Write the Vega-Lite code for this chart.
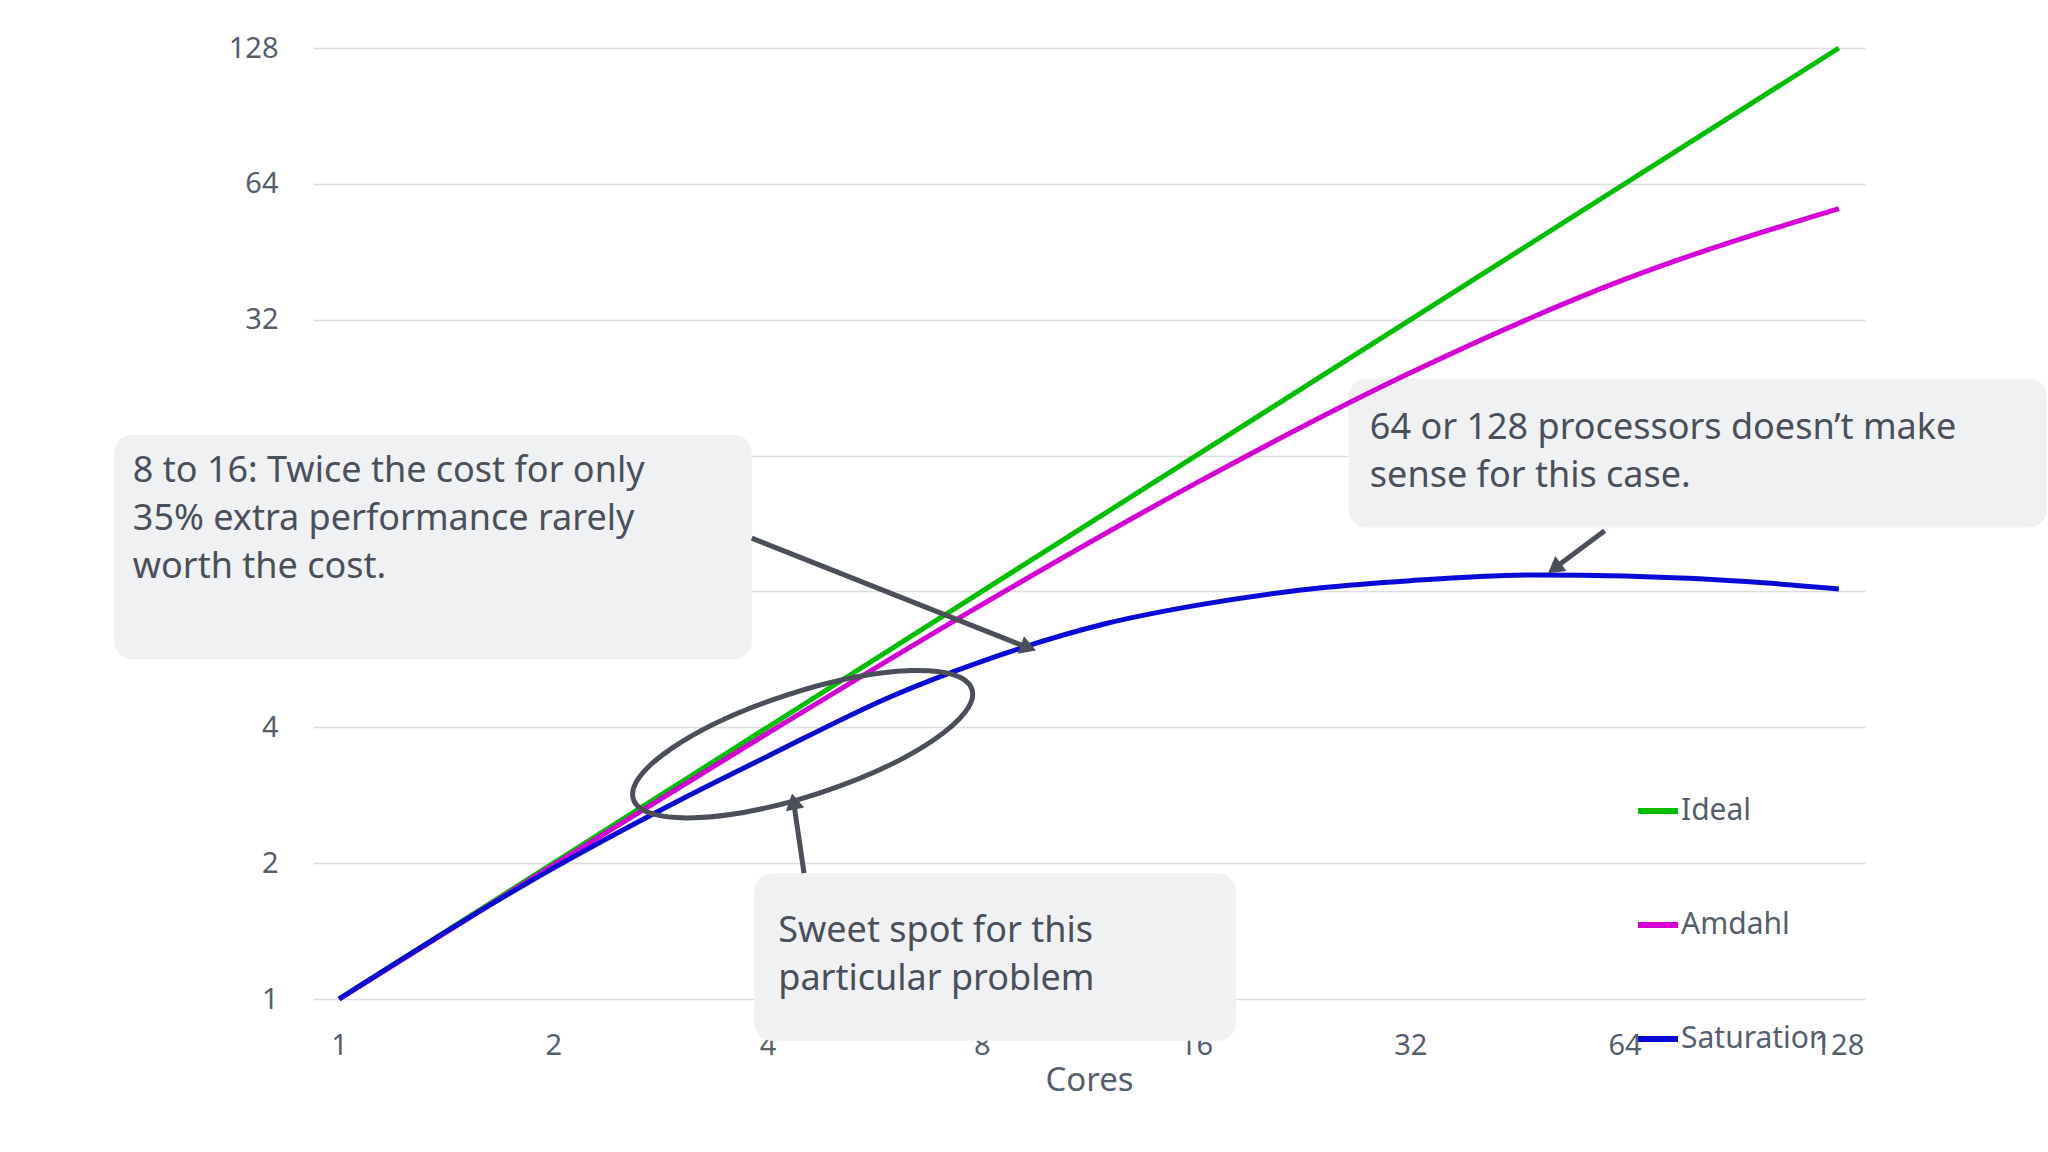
{
  "$schema": "https://vega.github.io/schema/vega-lite/v6.json",
  "autosize": "none",
  "width": 1552,
  "height": 951,
  "padding": {"left": 313, "top": 48, "right": 183, "bottom": 153},
  "background": "white",
  "config": {
    "view": {"stroke": null},
    "font": "Noto Sans",
    "axis": {"labelColor": "#555e6b", "titleColor": "#555e6b", "labelFontSize": 29, "titleFontSize": 33, "titleFontWeight": "normal", "domain": false, "ticks": false, "gridColor": "#dddddd", "zindex": 1}
  },
  "datasets": {
    "curves": [
      {"cores": 1, "speedup": 1, "series": "Ideal"},
      {"cores": 128, "speedup": 128, "series": "Ideal"},
      {"cores": 1, "speedup": 1, "series": "Amdahl"},
      {"cores": 2, "speedup": 1.98, "series": "Amdahl"},
      {"cores": 4, "speedup": 3.88, "series": "Amdahl"},
      {"cores": 8, "speedup": 7.48, "series": "Amdahl"},
      {"cores": 16, "speedup": 13.9, "series": "Amdahl"},
      {"cores": 32, "speedup": 24.4, "series": "Amdahl"},
      {"cores": 64, "speedup": 39.3, "series": "Amdahl"},
      {"cores": 128, "speedup": 56.4, "series": "Amdahl"},
      {"cores": 1, "speedup": 1, "series": "Saturation"},
      {"cores": 2, "speedup": 1.95, "series": "Saturation"},
      {"cores": 3, "speedup": 2.75, "series": "Saturation"},
      {"cores": 4, "speedup": 3.45, "series": "Saturation"},
      {"cores": 6, "speedup": 4.7, "series": "Saturation"},
      {"cores": 8, "speedup": 5.6, "series": "Saturation"},
      {"cores": 12, "speedup": 6.8, "series": "Saturation"},
      {"cores": 16, "speedup": 7.45, "series": "Saturation"},
      {"cores": 24, "speedup": 8.15, "series": "Saturation"},
      {"cores": 32, "speedup": 8.45, "series": "Saturation"},
      {"cores": 48, "speedup": 8.7, "series": "Saturation"},
      {"cores": 64, "speedup": 8.65, "series": "Saturation"},
      {"cores": 96, "speedup": 8.4, "series": "Saturation"},
      {"cores": 128, "speedup": 8.1, "series": "Saturation"}
    ],
    "boxes": [
      {"x": 0.483, "x2": 3.8, "y": 17.8, "y2": 5.66},
      {"x": 26.2, "x2": 251, "y": 23.7, "y2": 11.09},
      {"x": 3.83, "x2": 18.2, "y": 1.9, "y2": 0.808}
    ],
    "notes": [
      {"x": 0.513, "y": 16.1, "text": ["8 to 16: Twice the cost for only", "35% extra performance rarely", "worth the cost."]},
      {"x": 28.07, "y": 20.1, "text": ["64 or 128 processors doesn’t make", "sense for this case."]},
      {"x": 4.14, "y": 1.54, "text": ["Sweet spot for this", "particular problem"]}
    ],
    "arrows": [
      {"id": 1, "x": 3.8, "y": 10.5, "x2": 9.3, "y2": 6.0},
      {"id": 2, "x": 60, "y": 10.9, "x2": 51, "y2": 9.0},
      {"id": 3, "x": 4.5, "y": 1.9, "x2": 4.35, "y2": 2.74}
    ],
    "ellipse": [{"x": 4.48, "y": 3.67}]
  },
  "layer": [
    {
      "data": {"name": "boxes"},
      "mark": {"type": "rect", "color": "#f0f1f3", "cornerRadius": 18, "clip": false},
      "encoding": {
        "x": {"field": "x", "type": "quantitative", "scale": {"type": "log", "base": 2, "domain": [0.919, 139.3], "nice": false}, "title": "Cores",
          "axis": {"values": [1, 2, 4, 8, 16, 32, 64, 128], "grid": false, "labelPadding": 32, "titlePadding": 4}},
        "x2": {"field": "x2"},
        "y": {"field": "y", "type": "quantitative", "scale": {"type": "log", "base": 2, "domain": [1, 128], "nice": false}, "title": null,
          "axis": {"values": [1, 2, 4, 8, 16, 32, 64, 128], "labelPadding": 35, "gridWidth": 1.3}},
        "y2": {"field": "y2"}
      }
    },
    {
      "data": {"name": "curves"},
      "mark": {"type": "line", "strokeWidth": 5, "interpolate": "monotone", "clip": false},
      "encoding": {
        "x": {"field": "cores", "type": "quantitative"},
        "y": {"field": "speedup", "type": "quantitative"},
        "color": {"field": "series", "type": "nominal",
          "scale": {"domain": ["Ideal", "Amdahl", "Saturation"], "range": ["#00bf00", "#d600d6", "#0a0ad6"]},
          "legend": {"title": null, "orient": "none", "legendX": 1322, "legendY": 740, "symbolType": "stroke", "symbolStrokeWidth": 6, "symbolSize": 1600, "labelFontSize": 30, "labelColor": "#555e6b", "rowPadding": 76, "labelOffset": 0}}
      }
    },
    {
      "data": {"name": "arrows"},
      "mark": {"type": "rule", "color": "#4a4f5a", "strokeWidth": 5, "clip": false},
      "encoding": {
        "x": {"field": "x", "type": "quantitative"},
        "y": {"field": "y", "type": "quantitative"},
        "x2": {"field": "x2"},
        "y2": {"field": "y2"}
      }
    },
    {
      "data": {"name": "arrows"},
      "transform": [{"filter": "datum.id == 1"}],
      "mark": {"type": "point", "shape": "triangle-up", "filled": true, "color": "#4a4f5a", "opacity": 1, "size": 350, "angle": 110},
      "encoding": {"x": {"field": "x2", "type": "quantitative"}, "y": {"field": "y2", "type": "quantitative"}}
    },
    {
      "data": {"name": "arrows"},
      "transform": [{"filter": "datum.id == 2"}],
      "mark": {"type": "point", "shape": "triangle-up", "filled": true, "color": "#4a4f5a", "opacity": 1, "size": 350, "angle": 233},
      "encoding": {"x": {"field": "x2", "type": "quantitative"}, "y": {"field": "y2", "type": "quantitative"}}
    },
    {
      "data": {"name": "arrows"},
      "transform": [{"filter": "datum.id == 3"}],
      "mark": {"type": "point", "shape": "triangle-up", "filled": true, "color": "#4a4f5a", "opacity": 1, "size": 350, "angle": 349},
      "encoding": {"x": {"field": "x2", "type": "quantitative"}, "y": {"field": "y2", "type": "quantitative"}}
    },
    {
      "data": {"name": "ellipse"},
      "mark": {"type": "point", "shape": "M -1 0 A 1 0.29 0 1 0 1 0 A 1 0.29 0 1 0 -1 0 Z", "filled": false, "stroke": "#4a4f5a", "strokeWidth": 5, "opacity": 1, "size": 126736, "angle": 342},
      "encoding": {"x": {"field": "x", "type": "quantitative"}, "y": {"field": "y", "type": "quantitative"}}
    },
    {
      "data": {"name": "notes"},
      "mark": {"type": "text", "align": "left", "baseline": "top", "fontSize": 36, "lineHeight": 48, "color": "#4a4f5a", "clip": false},
      "encoding": {
        "x": {"field": "x", "type": "quantitative"},
        "y": {"field": "y", "type": "quantitative"},
        "text": {"field": "text"}
      }
    }
  ]
}
